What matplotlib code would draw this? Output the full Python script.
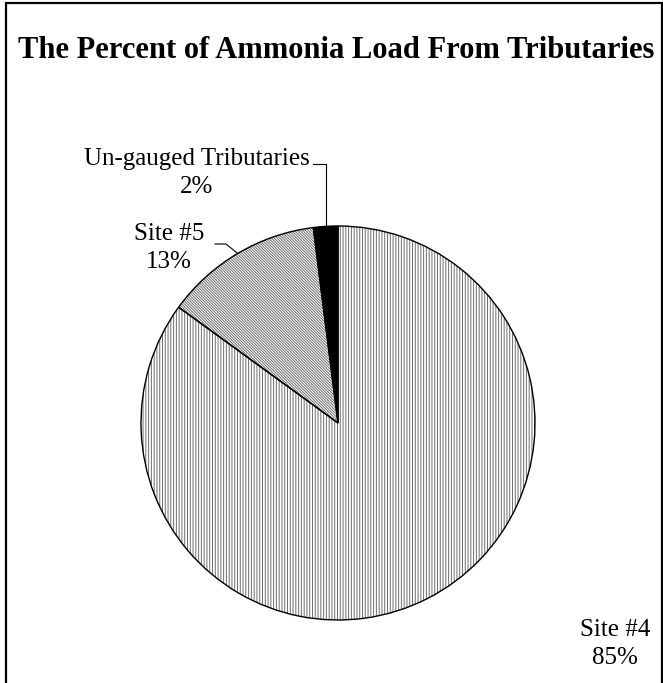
import numpy as np
import matplotlib
matplotlib.use("Agg")
import matplotlib.pyplot as plt
from matplotlib.patches import Rectangle

# data
labels = ["Site #4", "Site #5", "Un-gauged Tributaries"]
pcts = [85, 13, 2]
hatches = ["||||||", "\\" * 12, ""]
fills = ["white", "white", "black"]

plt.rcParams["font.family"] = ["Liberation Serif", "DejaVu Serif"]
plt.rcParams["hatch.linewidth"] = 0.7

W, H = 663, 683
cx, cy, R = 338, 423, 197  # pie centre / radius in pixels

fig = plt.figure(figsize=(W / 100, H / 100), dpi=100)
ax = fig.add_axes([0, 0, 1, 1])

# hatched fill pass (grey hatch), then black outline pass
wedges, _ = ax.pie(pcts, startangle=90, counterclock=False, radius=1,
                   colors=fills, wedgeprops=dict(linewidth=0))
for w, h in zip(wedges, hatches):
    w.set_hatch(h)
    w.set_edgecolor("#6e6e6e")
    w.set_linewidth(0)
ax.pie(pcts, startangle=90, counterclock=False, radius=1,
       colors=["none"] * 3,
       wedgeprops=dict(linewidth=1.0, edgecolor="black"))

ax.set_xlim(-cx / R, (W - cx) / R)
ax.set_ylim((cy - H) / R, cy / R)
ax.set_aspect("auto")
ax.axis("off")

def px(x, y):
    return (x - cx) / R, (cy - y) / R

# labels
txt = dict(fontsize=18, ha="center", va="center", linespacing=1.35)
lab_pos = {0: (615, 644), 1: (169, 248), 2: (197, 173)}
for i, (lab, p) in enumerate(zip(labels, pcts)):
    x, y = px(*lab_pos[i])
    ax.text(x, y, f"{lab}\n{p}%", **txt)

# leader lines ending at wedge mid-angle on the rim
def rim(w):
    a = np.deg2rad((w.theta1 + w.theta2) / 2)
    return np.cos(a), np.sin(a)

ex, ey = rim(wedges[2])
x0, y0 = px(313, 164)
ax.plot([x0, ex, ex], [y0, y0, ey], color="black", lw=0.8)

ex, ey = rim(wedges[1])
x0, y0 = px(215, 244)
x1, _ = px(226, 244)
ax.plot([x0, x1, ex], [y0, y0, ey], color="black", lw=0.8)

fig.text(336 / W, 1 - 50 / H, "The Percent of Ammonia Load From Tributaries",
         fontsize=22, fontweight="bold", ha="center", va="center")

fig.patches.append(Rectangle((5.5 / W, -0.01), (661.5 - 5.5) / W, 1.01 - 2.5 / H,
                             transform=fig.transFigure, fill=False,
                             edgecolor="black", linewidth=1.6))

fig.savefig("out.png", dpi=100)
